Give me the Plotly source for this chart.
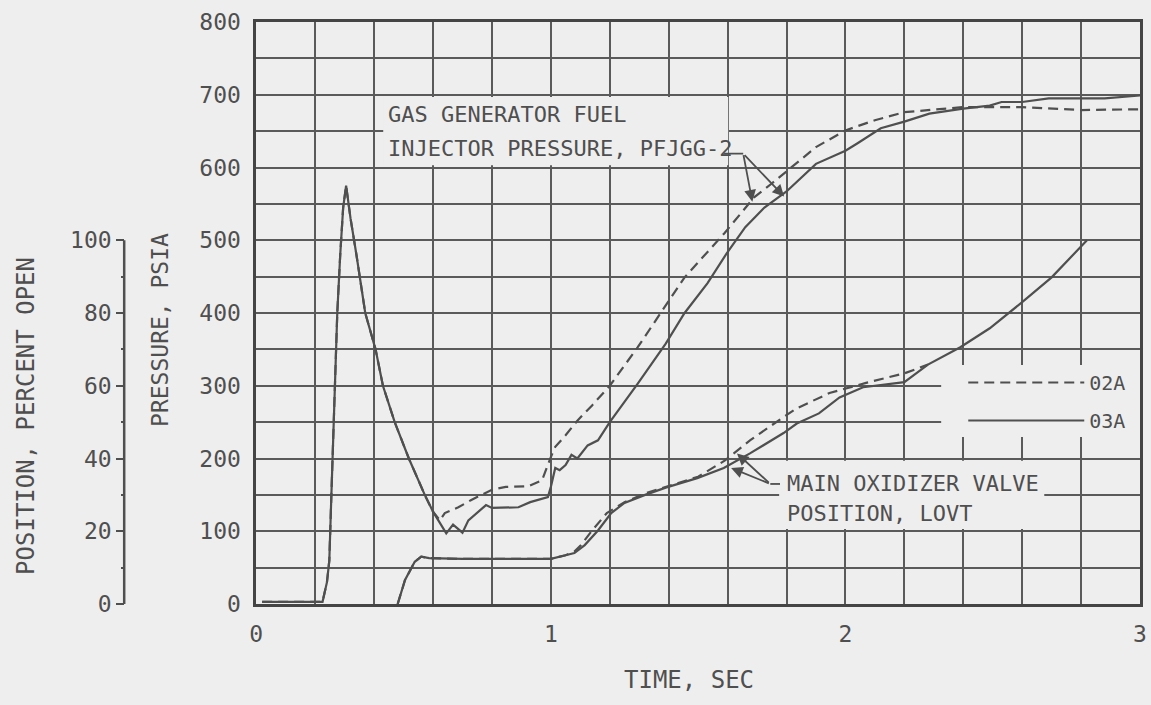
import plotly.graph_objects as go

BG = "#eeeeee"
INK = "#4f4f4f"
FONT = "DejaVu Sans Mono, monospace"

# ---------------- data ----------------
# time, sec
start_t = [0.02, 0.10, 0.225, 0.24, 0.248, 0.255, 0.265, 0.275, 0.285, 0.295, 0.305,
           0.32, 0.34, 0.37, 0.405, 0.43, 0.47, 0.518, 0.572, 0.60]
# pressure, psia (common to both runs)
start_p = [3, 3, 3, 30, 60, 150, 280, 400, 480, 545, 575,
           530, 480, 400, 350, 300, 250, 200, 150, 127]

# run 02A gas generator fuel injector pressure (after the spike)
t_02a = [0.623, 0.64, 0.686, 0.73, 0.80, 0.847, 0.925, 0.97, 1.0, 1.015, 1.05, 1.09,
         1.14, 1.2, 1.295, 1.386, 1.454, 1.59, 1.69, 1.75, 1.8, 1.9, 2.0, 2.1, 2.2,
         2.33, 2.4, 2.6, 2.8, 3.0]
p_02a = [115, 125, 133, 143, 157, 161, 162, 170, 202, 216, 232, 252,
         273, 300, 353, 408, 449, 510, 559, 578, 595, 628, 651, 665, 676,
         681, 683, 683, 679, 680]

# run 03A gas generator fuel injector pressure (after the spike)
t_03a = [0.645, 0.668, 0.70, 0.72, 0.78, 0.80, 0.89, 0.93, 0.99, 1.0, 1.015, 1.03,
         1.05, 1.07, 1.09, 1.125, 1.16, 1.2, 1.295, 1.39, 1.454, 1.532, 1.597, 1.66,
         1.725, 1.8, 1.9, 2.0, 2.04, 2.12, 2.2, 2.285, 2.4, 2.49, 2.53, 2.6, 2.69,
         2.8, 2.88, 3.0]
p_03a = [97, 109, 98, 115, 136, 132, 133, 140, 147, 161, 187, 184,
         191, 205, 200, 218, 225, 250, 303, 358, 400, 441, 482, 518,
         545, 567, 605, 623, 633, 654, 663, 674, 681, 685, 690, 690, 695,
         695, 695, 699]

# main oxidizer valve position, percent open
tv_02a = [0.48, 0.505, 0.538, 0.56, 0.587, 0.7, 0.9, 1.0, 1.05, 1.08, 1.1, 1.14,
          1.19, 1.25, 1.32, 1.39, 1.5, 1.59, 1.676, 1.79, 1.835, 1.946, 1.98, 2.07,
          2.2, 2.28]
v_02a = [0, 6.6, 11.6, 13, 12.6, 12.4, 12.4, 12.4, 13.4, 14.4, 16, 20.2,
         25, 28, 30.4, 32.2, 35, 39.4, 45, 51.4, 53.8, 58, 58.8, 60.8,
         63.4, 65.8]
tv_03a = [0.48, 0.505, 0.538, 0.56, 0.587, 0.7, 0.9, 1.0, 1.05, 1.08, 1.115, 1.16,
          1.205, 1.25, 1.32, 1.39, 1.497, 1.587, 1.676, 1.79, 1.835, 1.91, 1.98, 2.06,
          2.2, 2.28, 2.39, 2.49, 2.6, 2.7, 2.82]
v_03a = [0, 6.6, 11.6, 13, 12.6, 12.4, 12.4, 12.4, 13.4, 14, 16.2, 20.2,
         25, 27.8, 30, 32, 34.6, 37.4, 41.4, 47, 49.6, 52.4, 56.8, 59.6,
         61, 65.8, 70.6, 75.8, 83, 89.8, 100]

time_ticks = [0, 1, 2, 3]
pressure_ticks = [0, 100, 200, 300, 400, 500, 600, 700, 800]
position_ticks = [0, 20, 40, 60, 80, 100]
position_minor = [10, 30, 50, 70, 90]

# ---------------- figure ----------------
W, H = 1151, 705
ML, MR, MT, MB = 10, 4, 22, 101
PW, PH = W - ML - MR, H - MT - MB
X0 = 257  # pixel of t = 0


def px(xpix):
    return (xpix - ML) / PW


def py(ypix):
    return (MT + PH - ypix) / PH


fig = go.Figure()
line_solid = dict(color=INK, width=2.2)
line_dash = dict(color=INK, width=2.2, dash="10px,6px")

fig.add_trace(go.Scatter(x=start_t + t_02a, y=start_p + p_02a, mode="lines",
                         line=line_dash, name="02A", legendgroup="a"))
fig.add_trace(go.Scatter(x=start_t + t_03a, y=start_p + p_03a, mode="lines",
                         line=line_solid, name="03A", legendgroup="b"))
fig.add_trace(go.Scatter(x=tv_02a, y=v_02a, yaxis="y2", mode="lines",
                         line=line_dash, name="02A", legendgroup="a", showlegend=False))
fig.add_trace(go.Scatter(x=tv_03a, y=v_03a, yaxis="y2", mode="lines",
                         line=line_solid, name="03A", legendgroup="b", showlegend=False))

tickfont = dict(family=FONT, size=23, color=INK)
grid = dict(gridcolor="#5a5a5a", gridwidth=2)

fig.update_layout(
    width=W, height=H,
    margin=dict(l=ML, r=MR, t=MT, b=MB),
    paper_bgcolor=BG, plot_bgcolor=BG,
    font=dict(family=FONT, color=INK),
    showlegend=True,
    legend=dict(x=px(969), y=py(363), xanchor="left", yanchor="top",
                bgcolor="rgba(0,0,0,0)", font=dict(family=FONT, size=20, color=INK),
                itemwidth=116, traceorder="grouped", tracegroupgap=9),
    xaxis=dict(domain=[px(X0), 1], range=[0, 3], tickvals=time_ticks,
               showgrid=True, **grid, zeroline=False,
               minor=dict(dtick=0.2, tick0=0, showgrid=True, **grid),
               showline=True, linecolor="#444", linewidth=2.5, mirror=True,
               ticks="", tickfont=tickfont, ticklabelstandoff=8),
    yaxis=dict(range=[0, 800], tickvals=pressure_ticks, showgrid=True, **grid,
               zeroline=False,
               minor=dict(dtick=50, tick0=0, showgrid=True, **grid),
               showline=True, linecolor="#444", linewidth=2.5, mirror=True,
               ticks="", tickfont=tickfont, ticklabelstandoff=8),
    yaxis2=dict(overlaying="y", anchor="free", position=px(124), side="left",
                range=[0, 160], tickvals=position_ticks, showgrid=False,
                zeroline=False, showline=False, ticks="outside", ticklen=8,
                tickwidth=2, tickcolor=INK, tickfont=tickfont,
                minor=dict(tickmode="array", tickvals=position_minor, ticks="outside",
                           ticklen=3, tickwidth=2, tickcolor=INK)),
)

# blank boxes behind the notes (interrupt the grid like the original)
for (xa, xb, ya, yb) in [(0.431, 1.602, 603, 697),
                         (1.775, 2.675, 103, 197),
                         (2.325, 3.0, 229.5, 328.5)]:
    fig.add_shape(type="rect", xref="x", yref="y", x0=xa, x1=xb, y0=ya, y1=yb,
                  fillcolor=BG, line=dict(width=0), layer="between")

# position axis line (0-100 percent only)
fig.add_shape(type="line", xref="paper", yref="y2", x0=px(124), x1=px(124), y0=0, y1=100,
              line=dict(color=INK, width=2.5))

note_font = dict(family=FONT, size=22, color=INK)
notes = [
    ("GAS GENERATOR FUEL", 0.442, 673),
    ("INJECTOR PRESSURE, PFJGG-2", 0.442, 626),
    ("MAIN OXIDIZER VALVE", 1.794, 166),
    ("POSITION, LOVT", 1.794, 124),
]
for txt, xx, yy in notes:
    fig.add_annotation(text=txt, x=xx, y=yy, xref="x", yref="y", xanchor="left",
                       yanchor="middle", showarrow=False, font=note_font)

# leader lines
fig.add_shape(type="line", xref="x", yref="y", x0=1.588, x1=1.653, y0=619, y1=619,
              line=dict(color=INK, width=1.8))
fig.add_shape(type="line", xref="x", yref="y", x0=1.745, x1=1.778, y0=165, y1=165,
              line=dict(color=INK, width=1.8))
for (tx, ty, jx, jy) in [(1.684, 553, 1.653, 619), (1.792, 560, 1.653, 619),
                         (1.632, 207, 1.745, 165), (1.612, 187, 1.745, 165)]:
    fig.add_annotation(x=tx, y=ty, ax=jx, ay=jy, xref="x", yref="y", axref="x", ayref="y",
                       text="", showarrow=True, arrowhead=2, arrowsize=1.3,
                       arrowwidth=1.8, arrowcolor=INK, standoff=0, startstandoff=0)

# axis titles
title_font = dict(family=FONT, size=24, color=INK)
fig.add_annotation(text="TIME, SEC", x=px(693), y=py(680), xref="paper", yref="paper",
                   xanchor="center", yanchor="middle", showarrow=False, font=title_font)
fig.add_annotation(text="PRESSURE, PSIA", x=px(160), y=py(330), xref="paper", yref="paper",
                   xanchor="center", yanchor="middle", showarrow=False, textangle=-90,
                   font=dict(family=FONT, size=23, color=INK))
fig.add_annotation(text="POSITION, PERCENT OPEN", x=px(25), y=py(416), xref="paper",
                   yref="paper", xanchor="center", yanchor="middle", showarrow=False,
                   textangle=-90, font=title_font)

fig.write_html("out.html")
